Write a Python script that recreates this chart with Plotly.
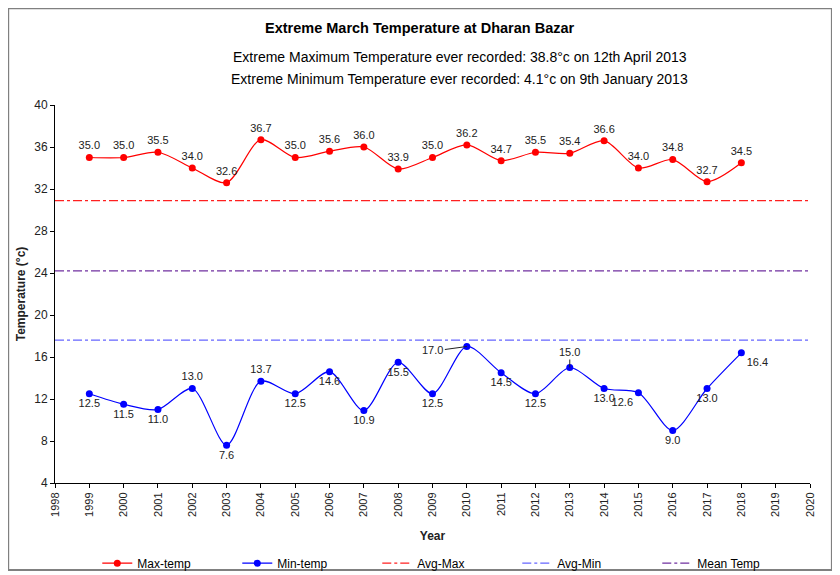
import plotly.graph_objects as go

years = list(range(1999, 2019))
max_temp = [35.0, 35.0, 35.5, 34.0, 32.6, 36.7, 35.0, 35.6, 36.0, 33.9,
            35.0, 36.2, 34.7, 35.5, 35.4, 36.6, 34.0, 34.8, 32.7, 34.5]
min_temp = [12.5, 11.5, 11.0, 13.0, 7.6, 13.7, 12.5, 14.6, 10.9, 15.5,
            12.5, 17.0, 14.5, 12.5, 15.0, 13.0, 12.6, 9.0, 13.0, 16.4]
avg_max = 30.9
avg_min = 17.6
mean_temp = 24.2
ref_x = [1998, 2020]
min_label_pos = ["bottom center", "bottom center", "bottom center", "top center",
                 "bottom center", "top center", "bottom center", "bottom center",
                 "bottom center", "bottom center", "bottom center", "none",
                 "bottom center", "bottom center", "none", "bottom center",
                 "bottom left", "bottom center", "bottom center", "bottom right"]

font = "Liberation Sans, Arial, sans-serif"

fig = go.Figure()
fig.add_trace(go.Scatter(
    x=years, y=max_temp, name="Max-temp", mode="lines+markers+text",
    line=dict(color="#FF0000", width=1.2, shape="spline", smoothing=0.8),
    marker=dict(color="#FF0000", size=7),
    text=[f"{v:.1f}" for v in max_temp], textposition="top center",
    textfont=dict(size=11, color="#222222", family=font)))
fig.add_trace(go.Scatter(
    x=years, y=min_temp, name="Min-temp", mode="lines+markers+text",
    line=dict(color="#0000FF", width=1.2, shape="spline", smoothing=0.8),
    marker=dict(color="#0000FF", size=7),
    text=[f"{v:.1f}" if p != "none" else "" for v, p in zip(min_temp, min_label_pos)],
    textposition=[p if p != "none" else "bottom center" for p in min_label_pos],
    textfont=dict(size=11, color="#222222", family=font)))
fig.add_trace(go.Scatter(
    x=ref_x, y=[avg_max, avg_max], name="Avg-Max", mode="lines",
    line=dict(color="#FF2020", width=1.2, dash="dashdot")))
fig.add_trace(go.Scatter(
    x=ref_x, y=[avg_min, avg_min], name="Avg-Min", mode="lines",
    line=dict(color="#6666FF", width=1.3, dash="dashdot")))
fig.add_trace(go.Scatter(
    x=ref_x, y=[mean_temp, mean_temp], name="Mean Temp", mode="lines",
    line=dict(color="#7030A0", width=1.1, dash="dashdot")))

# labels with leader lines
i17 = years.index(2010)
fig.add_annotation(x=years[i17], y=min_temp[i17], text=f"{min_temp[i17]:.1f}",
                   showarrow=True, arrowhead=0, arrowwidth=1, arrowcolor="#222222",
                   ax=-22, ay=3, xanchor="right", yanchor="middle",
                   font=dict(size=11, color="#222222", family=font))
i15 = years.index(2013)
fig.add_annotation(x=years[i15], y=min_temp[i15], text=f"{min_temp[i15]:.1f}",
                   showarrow=True, arrowhead=0, arrowwidth=1, arrowcolor="#222222",
                   ax=0, ay=-8, yanchor="bottom", xanchor="center",
                   font=dict(size=11, color="#222222", family=font))

fig.add_annotation(xref="paper", yref="paper", x=0.483, y=1.204, yanchor="middle",
                   text="<b>Extreme March Temperature at Dharan Bazar</b>",
                   showarrow=False, font=dict(size=14.5, color="black", family=font))
fig.add_annotation(xref="paper", yref="paper", x=0.536, y=1.127, yanchor="middle",
                   text="Extreme Maximum Temperature ever recorded: 38.8°c on 12th April 2013",
                   showarrow=False, font=dict(size=14, color="black", family=font))
fig.add_annotation(xref="paper", yref="paper", x=0.536, y=1.069, yanchor="middle",
                   text="Extreme Minimum Temperature ever recorded: 4.1°c on 9th January 2013",
                   showarrow=False, font=dict(size=14, color="black", family=font))

fig.add_shape(type="rect", xref="paper", yref="paper",
              x0=-0.062, x1=1.029, y0=-0.23, y1=1.256,
              line=dict(color="#808080", width=2))

fig.update_layout(
    width=840, height=575,
    margin=dict(l=47, r=38, t=97, b=100, autoexpand=False),
    paper_bgcolor="white", plot_bgcolor="white",
    font=dict(family=font, size=11, color="#222222"),
    showlegend=True,
    legend=dict(orientation="h", x=0.056, xanchor="left", y=-0.212, yanchor="middle",
                font=dict(size=12, family=font, color="black"),
                entrywidth=95, entrywidthmode="pixels", traceorder="normal",
                bgcolor="rgba(0,0,0,0)"),
)
fig.update_xaxes(range=[1998, 2020], tickmode="linear", tick0=1998, dtick=1,
                 tickangle=-90, showgrid=False, zeroline=False, automargin=False,
                 showline=True, linecolor="black", linewidth=1,
                 ticks="outside", ticklen=4, tickcolor="black",
                 tickfont=dict(size=11, family=font),
                 title=dict(text="<b>Year</b>", font=dict(size=12, family=font), standoff=15))
fig.update_yaxes(range=[4, 40], tickmode="linear", tick0=4, dtick=4,
                 showgrid=False, zeroline=False, automargin=False,
                 showline=True, linecolor="black", linewidth=1,
                 ticks="outside", ticklen=4, tickcolor="black",
                 tickfont=dict(size=12, family=font),
                 title=dict(text="<b>Temperature (°c)</b>", font=dict(size=12, family=font), standoff=6))

fig.write_html("out.html")
